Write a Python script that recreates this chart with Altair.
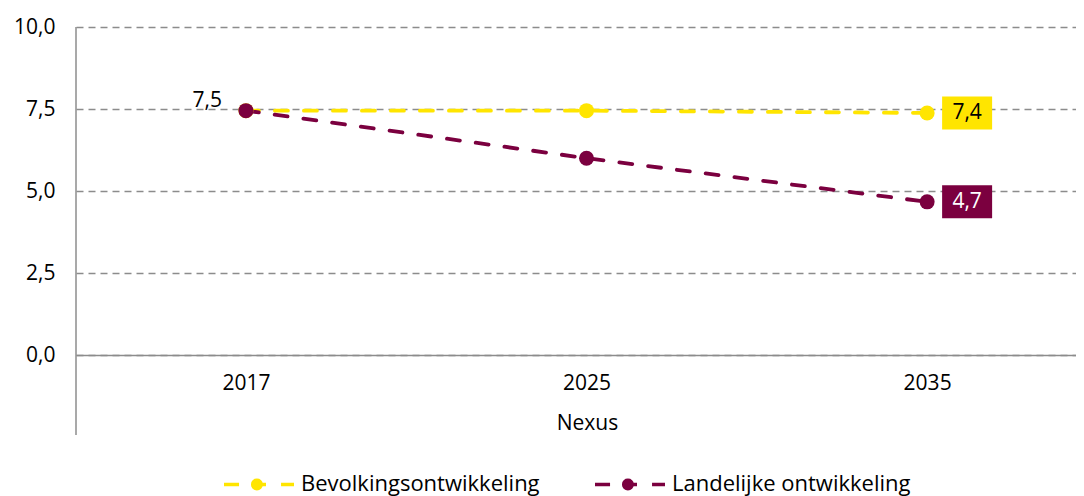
import math
import altair as alt
import pandas as pd

# ---- data ----
years = ["2017", "2025", "2035"]
series_names = ["Bevolkingsontwikkeling", "Landelijke ontwikkeling"]
bevolking = [7.45, 7.45, 7.38]
landelijk = [7.45, 6.0, 4.67]
series_colors = ["#FFE500", "#7B003F"]
start_label = "7,5"
end_labels = ["7,4", "4,7"]
end_text_colors = ["#000000", "#FFFFFF"]
y_ticks = [0, 2.5, 5, 7.5, 10]
group_label = "Nexus"

FONT = "Open Sans"
GRAY = "#8c8c8c"
FS = 21

rows = []
for name, col, vals in zip(series_names, series_colors, [bevolking, landelijk]):
    for yr, v in zip(years, vals):
        rows.append({"year": yr, "series": name, "col": col, "value": v})
df = pd.DataFrame(rows)

end_df = pd.DataFrame({
    "year": [years[-1]] * 2,
    "series": series_names,
    "col": series_colors,
    "value": [bevolking[-1], landelijk[-1]],
    "label": end_labels,
    "tcolor": end_text_colors,
})
start_df = pd.DataFrame({
    "year": [years[0]],
    "series": [series_names[1]],
    "value": [landelijk[0]],
    "label": [start_label],
})

cscale = alt.Scale(domain=series_names, range=series_colors)

# legend symbol: dash, dot, dash
def poly(cx, r, n=16):
    pts = [(cx + r * math.cos(2 * math.pi * k / n), r * math.sin(2 * math.pi * k / n)) for k in range(n)]
    return "M" + "L".join(f"{x:.3f},{y:.3f}" for x, y in pts) + "Z"

legend_path = "M-1,0L-0.57,0M-0.06,0L0.2,0M0.63,0L1,0" + poly(-0.06, 0.12)
box_path = "M-1,-0.66L1,-0.66L1,0.66L-1,0.66Z"

x_enc = alt.X(
    "year:N",
    sort=years,
    scale=alt.Scale(type="point", padding=0.468, align=0.533),
    axis=alt.Axis(
        labelAngle=0, ticks=False, grid=False,
        domainColor=GRAY, domainWidth=1.5,
        labelPadding=17, labelFontSize=FS, labelColor="#000000",
        title=group_label, titleFontSize=FS, titleFontWeight="normal",
        titleColor="#000000", titleX=511, titleY=74, titleBaseline="alphabetic",
        titleAlign="center",
    ),
)
y_enc = alt.Y(
    "value:Q",
    scale=alt.Scale(domain=[0, 10], nice=False, zero=True),
    axis=alt.Axis(
        values=y_ticks,
        labelExpr="replace(format(datum.value, '.1f'), '.', ',')",
        grid=True, gridDash=[7, 5], gridColor=GRAY, gridWidth=1.5,
        domain=False, ticks=False, labelPadding=21,
        labelFontSize=FS, labelColor="#000000", title=None,
    ),
)

base = alt.Chart(df).encode(x=x_enc, y=y_enc)

legend_props = dict(
    orient="none", legendX=146, legendY=420, direction="horizontal", columns=2,
    title=None, symbolType=legend_path, symbolSize=4900, symbolStrokeWidth=3.5,
    symbolOpacity=1, labelFontSize=22, labelColor="#000000", labelFont=FONT,
    labelOffset=5, columnPadding=48, labelLimit=400,
)

legend_layer = base.mark_point(filled=True, opacity=0, strokeWidth=3.5).encode(
    fill=alt.Fill("series:N", scale=cscale, legend=alt.Legend(**legend_props)),
    stroke=alt.Stroke("series:N", scale=cscale, legend=alt.Legend(**legend_props)),
)

axis_rule = alt.Chart(pd.DataFrame({"a": [0]})).mark_rule(
    color=GRAY, strokeWidth=1.5
).encode(x=alt.value(0), y=alt.value(0), y2=alt.value(408))

lines = base.mark_line(strokeWidth=3.8, strokeDash=[13, 16], strokeCap="round").encode(
    stroke=alt.Stroke("col:N", scale=None),
    detail="series:N",
)
points = base.mark_point(filled=True, size=225, opacity=1).encode(
    fill=alt.Fill("col:N", scale=None),
)

start_text = alt.Chart(start_df).mark_text(
    align="right", dx=-24, dy=-10, fontSize=FS, color="#000000", font=FONT
).encode(x=alt.X("year:N", sort=years), y="value:Q", text="label:N")

end_boxes = alt.Chart(end_df).mark_point(
    shape=box_path, size=2500, filled=True, opacity=1, xOffset=40
).encode(
    x=alt.X("year:N", sort=years), y="value:Q",
    fill=alt.Fill("col:N", scale=None),
)
end_text = alt.Chart(end_df).mark_text(dx=40, fontSize=FS, font=FONT).encode(
    x=alt.X("year:N", sort=years), y="value:Q", text="label:N",
    color=alt.Color("tcolor:N", scale=None),
)

chart = alt.layer(
    legend_layer, axis_rule, lines, points, start_text, end_boxes, end_text
).properties(
    width=1000, height=328,
    autosize=alt.AutoSizeParams(type="none"),
    padding={"left": 68, "top": 19, "right": 0, "bottom": 145},
).configure(font=FONT).configure_view(stroke=None)

chart.save("out.html", embed_options={"renderer": "svg", "actions": False})
